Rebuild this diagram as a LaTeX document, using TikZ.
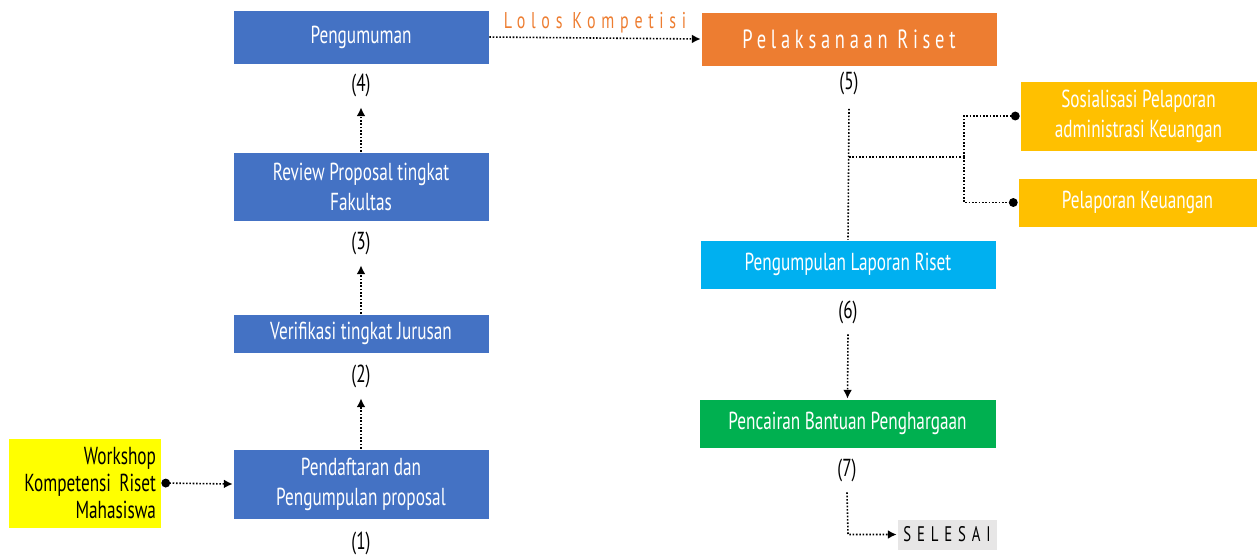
\documentclass[tikz,border=0pt]{standalone}
\usepackage{fontspec}
\setmainfont{PT Sans}[FakeStretch=0.7]
\usetikzlibrary{arrows.meta}
\definecolor{blok}{HTML}{4472C4}
\definecolor{oranye}{HTML}{ED7D31}
\definecolor{emas}{HTML}{FFC000}
\definecolor{biru}{HTML}{00B0F0}
\definecolor{hijau}{HTML}{00B050}
\definecolor{abu}{HTML}{E7E6E6}
\definecolor{kuning}{HTML}{FFFF00}
\tikzset{
  kotak/.style={rectangle, draw=white, line width=0.4pt, fill=blok, text=white, align=center, inner sep=0pt, font=\fontsize{14}{17}\selectfont},
  nomor/.style={font=\fontsize{14}{16}\selectfont, inner sep=0pt},
  alur/.style={densely dotted, line width=0.9pt, -{Latex[length=5pt,width=5pt]}},
  garis/.style={densely dotted, line width=0.9pt},
  titik/.style={densely dotted, line width=0.9pt, {Circle[length=5pt]}-{Latex[length=5pt,width=5pt]}},
  cabang/.style={densely dotted, line width=0.9pt, -{Circle[length=5pt]}}
}
\begin{document}
\begin{tikzpicture}[x=0.02cm, y=-0.02cm]
\useasboundingbox (0,0) rectangle (1257,556);

% kolom kiri
\node[kotak, minimum width=5.12cm, minimum height=1.08cm] (umum) at (361,37) {Pengumuman};
\node[nomor] (n4) at (361,85) {(4)};
\node[kotak, minimum width=5.12cm, minimum height=1.38cm] (review) at (361,186.5) {Review Proposal tingkat\\Fakultas};
\node[nomor] (n3) at (361,243) {(3)};
\node[kotak, minimum width=5.12cm, minimum height=0.78cm] (verif) at (361,333.5) {Verifikasi tingkat Jurusan};
\node[nomor] (n2) at (361,376) {(2)};
\node[kotak, minimum width=5.12cm, minimum height=1.4cm] (daftar) at (361,484) {Pendaftaran dan\\Pengumpulan proposal};
\node[nomor] (n1) at (361,543) {(1)};
\node[kotak, fill=kuning, text=black, align=right, minimum width=3.06cm, minimum height=1.8cm, text width=2.86cm, font=\fontsize{14}{15.5}\selectfont] (workshop) at (84.5,483) {Workshop\\Kompetensi Riset\\Mahasiswa};

% kolom kanan
\node[kotak, fill=oranye, minimum width=5.92cm, minimum height=1.08cm, font=\fontsize{15}{17}\selectfont\addfontfeature{LetterSpace=18}] (riset) at (849,39) {Pelaksanaan Riset};
\node[nomor] (n5) at (849,83) {(5)};
\node[kotak, fill=emas, minimum width=4.74cm, minimum height=1.4cm] (sosial) at (1138.5,116) {Sosialisasi Pelaporan\\administrasi Keuangan};
\node[kotak, fill=emas, minimum width=4.78cm, minimum height=0.98cm] (lapor) at (1137.5,202.5) {Pelaporan Keuangan};
\node[kotak, fill=biru, minimum width=5.92cm, minimum height=0.98cm] (kumpul) at (848,264.5) {Pengumpulan Laporan Riset};
\node[nomor] (n6) at (848,312) {(6)};
\node[kotak, fill=hijau, minimum width=5.94cm, minimum height=0.98cm] (cair) at (847.5,423.5) {Pencairan Bantuan Penghargaan};
\node[nomor] (n7) at (847,470) {(7)};
\node[kotak, fill=abu, text=black, minimum width=2cm, minimum height=0.62cm, font=\fontsize{12}{14}\selectfont\addfontfeature{LetterSpace=28}] (selesai) at (947,534.5) {SELESAI};

\coordinate (pisah) at (849,157);
\coordinate (simpul) at (964,157);
\coordinate (belok) at (848,534.5);

% panah
\draw[alur] (review.north) -- ([yshift=-6pt]n4.south);
\draw[alur] (verif.north) -- ([yshift=-6pt]n3.south);
\draw[alur] (daftar.north) -- ([yshift=-6pt]n2.south);
\draw[titik] (workshop.east) -- (daftar.west);
\draw[alur] (umum.east) -- node[above=-1pt, text=oranye, font=\fontsize{13}{15}\selectfont\addfontfeature{LetterSpace=25}] (lolos) {Lolos Kompetisi} (riset.west);
\draw[garis] ([yshift=-8pt]n5.south) -- (kumpul.north);
\draw[garis] (pisah) -- (simpul);
\draw[cabang] (simpul) |- (sosial.west);
\draw[cabang] (simpul) |- (lapor.west);
\draw[alur] ([yshift=-6pt]n6.south) -- (cair.north);
\draw[alur] ([yshift=-6pt]n7.south) -- (belok) -- (selesai.west);
\end{tikzpicture}
\end{document}
